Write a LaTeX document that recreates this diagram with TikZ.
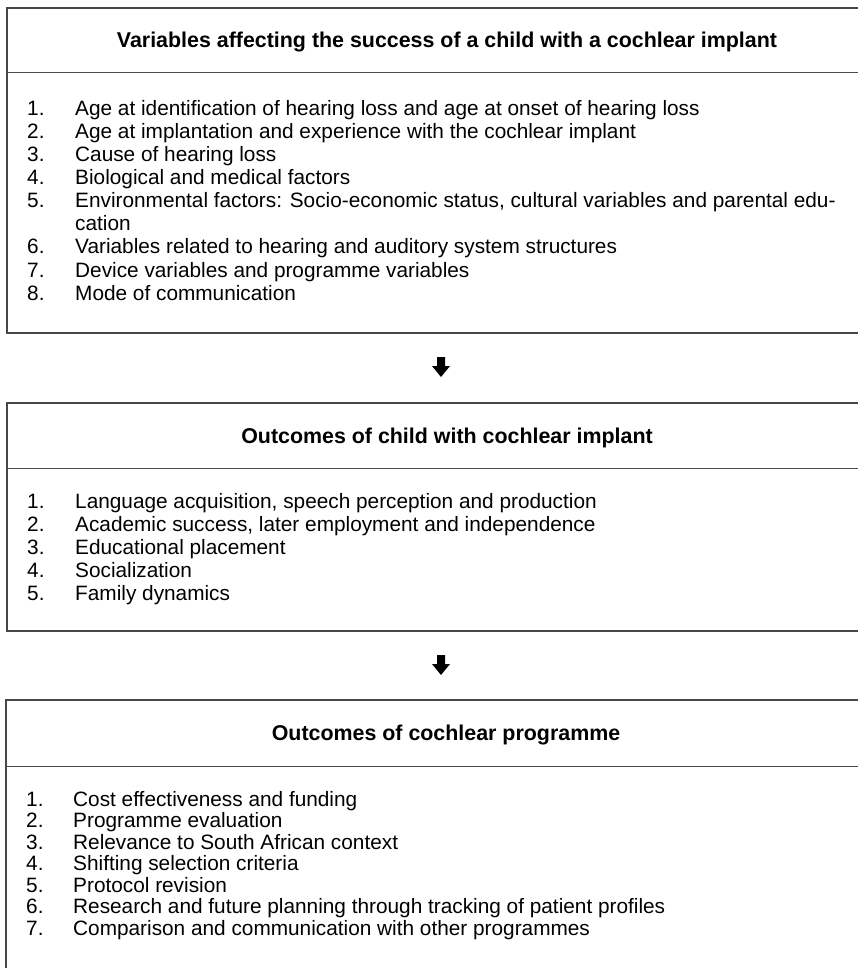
\documentclass[tikz,border=0pt]{standalone}
\usepackage{fontspec}
\setmainfont{Liberation Sans}
\begin{document}
\begin{tikzpicture}[x=1pt,y=-1pt,
  frame/.style={draw=black!72, line width=1.8pt},
  sepline/.style={draw=black!70, line width=1pt},
  boxtitle/.style={font=\fontsize{21.4}{24}\selectfont\bfseries, anchor=base, inner sep=0pt},
  num/.style={font=\fontsize{20.8}{23}\selectfont, anchor=base west, inner sep=0pt},
  itemtext/.style={font=\fontsize{20.8}{23}\selectfont, anchor=base west, inner sep=0pt},
  downarrow/.pic={\fill[black] (-4,-10) -- (4,-10) -- (4,-1) -- (9,-1) -- (0,10) -- (-9,-1) -- (-4,-1) -- cycle;}
]
\useasboundingbox (0,0) rectangle (858,968);
\fill[white] (0,0) rectangle (858,968);

% ---------- Box 1 ----------
\draw[frame] (858,8) -- (7,8) -- (7,333) -- (858,333);
\draw[sepline] (7,73) -- (858,73);
\node[boxtitle] (t1) at (447,48) {Variables affecting the success of a child with a cochlear implant};
\node[num] (a1n) at (27,116) {1.}; \node[itemtext] (a1) at (75,116) {Age at identification of hearing loss and age at onset of hearing loss};
\node[num] (a2n) at (27,139) {2.}; \node[itemtext] (a2) at (75,139) {Age at implantation and experience with the cochlear implant};
\node[num] (a3n) at (27,162) {3.}; \node[itemtext] (a3) at (75,162) {Cause of hearing loss};
\node[num] (a4n) at (27,185) {4.}; \node[itemtext] (a4) at (75,185) {Biological and medical factors};
\node[num] (a5n) at (27,208) {5.}; \node[itemtext] (a5) at (75,208) {Environmental factors: Socio-economic status, cultural variables and parental edu-};
\node[itemtext] (a5b) at (75,231) {cation};
\node[num] (a6n) at (27,254) {6.}; \node[itemtext] (a6) at (75,254) {Variables related to hearing and auditory system structures};
\node[num] (a7n) at (27,277) {7.}; \node[itemtext] (a7) at (75,277) {Device variables and programme variables};
\node[num] (a8n) at (27,300) {8.}; \node[itemtext] (a8) at (75,300) {Mode of communication};

% ---------- Arrow 1 ----------
\coordinate (arr1) at (441,367);
\pic at (arr1) {downarrow};

% ---------- Box 2 ----------
\draw[frame] (858,403) -- (7,403) -- (7,631) -- (858,631);
\draw[sepline] (7,468) -- (858,468);
\node[boxtitle] (t2) at (447,443) {Outcomes of child with cochlear implant};
\node[num] (b1n) at (27,508) {1.}; \node[itemtext] (b1) at (75,508) {Language acquisition, speech perception and production};
\node[num] (b2n) at (27,531) {2.}; \node[itemtext] (b2) at (75,531) {Academic success, later employment and independence};
\node[num] (b3n) at (27,554) {3.}; \node[itemtext] (b3) at (75,554) {Educational placement};
\node[num] (b4n) at (27,577) {4.}; \node[itemtext] (b4) at (75,577) {Socialization};
\node[num] (b5n) at (27,600) {5.}; \node[itemtext] (b5) at (75,600) {Family dynamics};

% ---------- Arrow 2 ----------
\coordinate (arr2) at (441,665);
\pic at (arr2) {downarrow};

% ---------- Box 3 ----------
\draw[frame] (858,700) -- (6,700) -- (6,968);
\draw[sepline] (6,766) -- (858,766);
\node[boxtitle] (t3) at (446,740) {Outcomes of cochlear programme};
\node[num] (c1n) at (26,806) {1.}; \node[itemtext] (c1) at (73,806) {Cost effectiveness and funding};
\node[num] (c2n) at (26,827.5) {2.}; \node[itemtext] (c2) at (73,827.5) {Programme evaluation};
\node[num] (c3n) at (26,849) {3.}; \node[itemtext] (c3) at (73,849) {Relevance to South African context};
\node[num] (c4n) at (26,870.5) {4.}; \node[itemtext] (c4) at (73,870.5) {Shifting selection criteria};
\node[num] (c5n) at (26,892) {5.}; \node[itemtext] (c5) at (73,892) {Protocol revision};
\node[num] (c6n) at (26,913.5) {6.}; \node[itemtext] (c6) at (73,913.5) {Research and future planning through tracking of patient profiles};
\node[num] (c7n) at (26,935) {7.}; \node[itemtext] (c7) at (73,935) {Comparison and communication with other programmes};
\end{tikzpicture}
\end{document}
